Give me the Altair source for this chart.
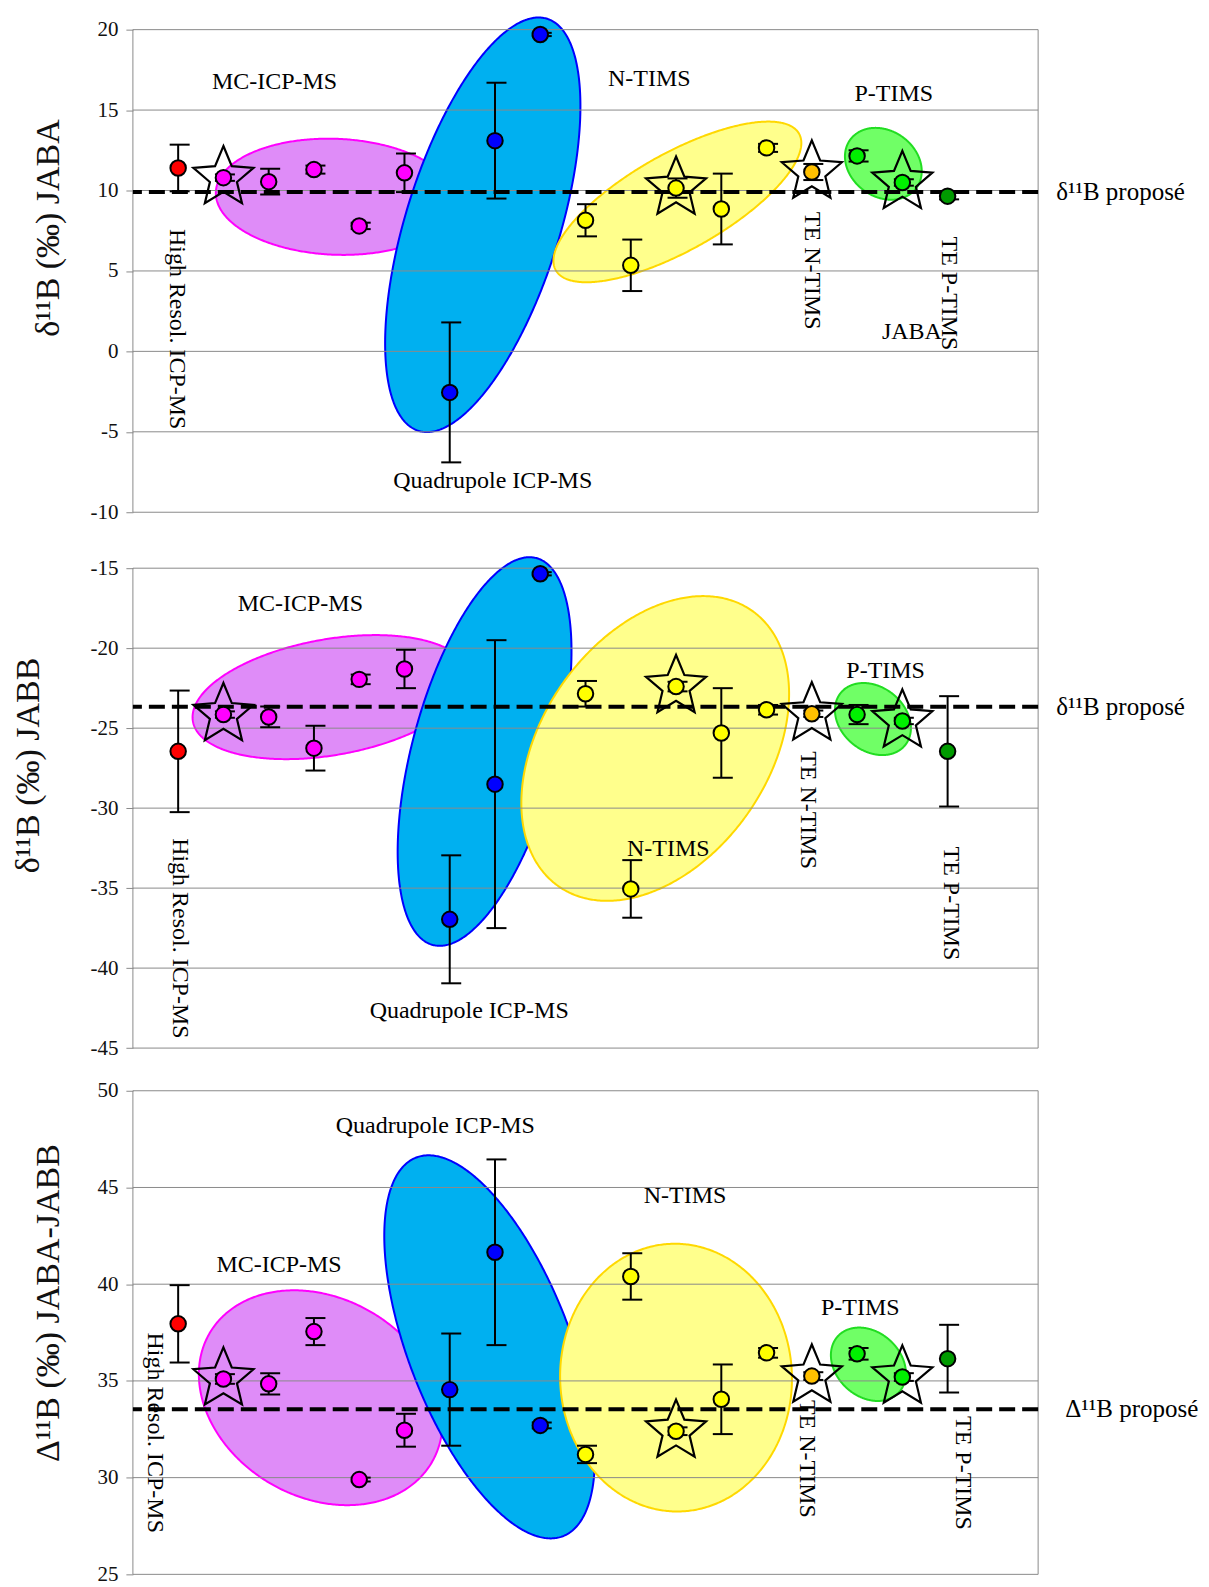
import math
import numpy as np
import pandas as pd
import altair as alt

FONT = "Liberation Serif"
GRID = "#8a8a8a"

# ---------------- data ----------------
idx = list(range(1, 19))
method = (["HR-ICP-MS"] + ["MC-ICP-MS"] * 5 + ["Q-ICP-MS"] * 3 + ["N-TIMS"] * 5
          + ["TE N-TIMS"] + ["P-TIMS"] * 2 + ["TE P-TIMS"])
star_idx = [2, 12, 15, 17]
method_names = ["HR-ICP-MS", "MC-ICP-MS", "Q-ICP-MS", "N-TIMS", "TE N-TIMS", "P-TIMS", "TE P-TIMS"]
method_colors = ["#FF0000", "#FF00FF", "#0000FF", "#FFFF00", "#FFC000", "#00F000", "#009A00"]

jaba_val = [11.4, 10.8, 10.55, 11.3, 7.8, 11.1, -2.55, 13.1, 19.7, 8.15, 5.35, 10.15, 8.85, 12.65, 11.15, 12.15, 10.5, 9.65]
jaba_err = [1.45, 0.2, 0.8, 0.25, 0.2, 1.2, 4.35, 3.6, 0.1, 1.0, 1.6, 0.6, 2.2, 0.25, 0.5, 0.35, 0.2, 0.2]
jabb_val = [-26.45, -24.15, -24.3, -26.25, -21.95, -21.3, -36.95, -28.5, -15.35, -22.85, -35.05, -22.4, -25.3, -23.85, -24.1, -24.15, -24.55, -26.45]
jabb_err = [3.8, 0.2, 0.65, 1.4, 0.3, 1.2, 4.0, 9.0, 0.1, 0.8, 1.8, 0.3, 2.8, 0.3, 0.2, 0.6, 0.2, 3.45]
diff_val = [37.95, 35.1, 34.85, 37.55, 29.9, 32.45, 34.55, 41.65, 32.7, 31.2, 40.4, 32.4, 34.05, 36.45, 35.25, 36.4, 35.2, 36.15]
diff_err = [2.0, 0.25, 0.55, 0.7, 0.1, 0.85, 2.9, 4.8, 0.15, 0.45, 1.2, 0.2, 1.8, 0.25, 0.2, 0.3, 0.2, 1.75]

ticks1 = [-10, -5, 0, 5, 10, 15, 20]
ticks2 = [-45, -40, -35, -30, -25, -20, -15]
ticks3 = [25, 30, 35, 40, 45, 50]

ref1, ref2, ref3 = 9.9, -23.66, 33.53

# annotation labels
lab1_h = ["MC-ICP-MS", "Quadrupole ICP-MS", "N-TIMS", "P-TIMS", "JABA"]
lab1_hx = [3.13, 7.95, 11.41, 16.81, 17.21]
lab1_hy = [16.75, -8.03, 16.96, 16.03, 1.22]
lab1_v = ["High Resol. ICP-MS", "TE N-TIMS", "TE P-TIMS"]
lab1_vx = [0.97, 15.01, 18.02]
lab1_vy = [1.38, 5.01, 3.6]

lab2_h = ["MC-ICP-MS", "Quadrupole ICP-MS", "N-TIMS", "P-TIMS"]
lab2_hx = [3.7, 7.43, 11.83, 16.63]
lab2_hy = [-17.25, -42.67, -32.58, -21.43]
lab2_v = ["High Resol. ICP-MS", "TE N-TIMS", "TE P-TIMS"]
lab2_vx = [1.04, 14.91, 18.07]
lab2_vy = [-38.14, -30.12, -35.96]

lab3_h = ["Quadrupole ICP-MS", "N-TIMS", "MC-ICP-MS", "P-TIMS"]
lab3_hx = [6.68, 12.2, 3.23, 16.07]
lab3_hy = [48.2, 44.55, 41.0, 38.77]
lab3_v = ["High Resol. ICP-MS", "TE N-TIMS", "TE P-TIMS"]
lab3_vx = [0.48, 14.9, 18.33]
lab3_vy = [32.32, 30.97, 30.24]

# group ellipses: centre (data units), semi-axes (px), angle (deg)
ell1_cx = [4.48, 7.73, 12.03, 16.58]
ell1_cy = [9.61, 7.87, 9.29, 11.66]
ell1_a = [120, 216, 139.6, 41]
ell1_b = [58, 77, 48.6, 33]
ell1_ang = [-2.3, 72.65, 29.3, -36]

ell2_cx = [4.37, 7.77, 11.54, 16.35]
ell2_cy = [-23.06, -26.46, -26.27, -24.43]
ell2_a = [140, 200.4, 168.5, 41.5]
ell2_b = [58, 72.3, 113.2, 32]
ell2_ang = [10, 75, 54.95, -39]

ell3_cx = [4.15, 7.88, 12.0, 16.25]
ell3_cy = [34.13, 36.76, 35.17, 35.86]
ell3_a = [128.6, 203.2, 134, 41.5]
ell3_b = [99.5, 81, 116, 32.2]
ell3_ang = [-30, 111.2, 92, -42.5]

ell_fill = ["#DF8CF8", "#00B0F0", "#FFFF8C", "#70FF66"]
ell_stroke = ["#FF00FF", "#0000FF", "#FFD800", "#22DD22"]

# ---------------- layout ----------------
W = 906
XDOM = [0, 20]
KX = W / (XDOM[1] - XDOM[0])


def star_path(inner=0.45):
    pts = []
    for k in range(10):
        ang = math.radians(-90 + 36 * k)
        r = 1.0 if k % 2 == 0 else inner
        pts.append(f"{r * math.cos(ang):.4f},{r * math.sin(ang):.4f}")
    return "M" + "L".join(pts) + "Z"


STAR = star_path()


def ellipse_frame(cx, cy, a, b, ang, ky, n=260):
    al = math.radians(ang)
    c, s = math.cos(al), math.sin(al)
    half_w = math.sqrt((a * c) ** 2 + (b * s) ** 2)
    A2 = s * s / a ** 2 + c * c / b ** 2
    rows = []
    for t in np.linspace(0, math.pi, n):
        px = -half_w * math.cos(t)
        B2 = 2 * px * c * s * (1 / a ** 2 - 1 / b ** 2)
        C2 = px * px * (c * c / a ** 2 + s * s / b ** 2) - 1
        disc = max(B2 * B2 - 4 * A2 * C2, 0.0)
        r1 = (-B2 - math.sqrt(disc)) / (2 * A2)
        r2 = (-B2 + math.sqrt(disc)) / (2 * A2)
        rows.append({"ex": cx + px / KX, "elo": cy + r1 / ky, "ehi": cy + r2 / ky})
    return pd.DataFrame(rows)


def panel(vals, errs, ticks, dom, H, title, tx, ty, ref_val, ref_label, ref_x,
          ell, lab_h, lab_v):
    ky = H / (dom[1] - dom[0])
    xs = alt.Scale(domain=XDOM, nice=False, zero=False)
    ys = alt.Scale(domain=dom, nice=False, zero=False)
    yax = alt.Axis(values=ticks, grid=False, domain=False, ticks=True,
                   tickSize=7, tickColor=GRID, tickWidth=1,
                   labelFont=FONT, labelFontSize=21, labelColor="#111",
                   labelPadding=8, labelExpr="'' + datum.value",
                   title=title, titleFont=FONT, titleFontSize=34,
                   titleFontWeight="normal", titleColor="#111",
                   titleAngle=270, titleX=tx, titleY=ty,
                   titleAlign="center", titleBaseline="middle")

    def Y(field):
        return alt.Y(field, scale=ys, axis=yax)

    def XX(field):
        return alt.X(field, scale=xs, axis=None)

    df = pd.DataFrame({"i": idx, "v": vals, "e": errs, "g": method})
    df["lo"] = df["v"] - df["e"]
    df["hi"] = df["v"] + df["e"]
    caps = pd.DataFrame({"i": idx * 2, "c": list(df["lo"]) + list(df["hi"])})
    stars = df[df["i"].isin(star_idx)]

    layers = []
    # ellipses
    cxs, cys, aa, bb, angs = ell
    for k in range(len(cxs)):
        edf = ellipse_frame(cxs[k], cys[k], aa[k], bb[k], angs[k], ky)
        layers.append(
            alt.Chart(edf).mark_area(fill=ell_fill[k], stroke=ell_stroke[k],
                                     strokeWidth=2, fillOpacity=1, interpolate="linear")
            .encode(x=XX("ex:Q"), y=alt.Y("elo:Q", scale=ys, axis=yax, stack=None),
                    y2="ehi:Q")
        )
    # gridlines
    layers.append(
        alt.Chart(pd.DataFrame({"t": ticks})).mark_rule(color=GRID, strokeWidth=1)
        .encode(y=Y("t:Q"))
    )
    # left / right borders
    bdf = pd.DataFrame({"bx": XDOM, "b0": [min(ticks)] * 2, "b1": [max(ticks)] * 2})
    layers.append(
        alt.Chart(bdf).mark_rule(color=GRID, strokeWidth=1)
        .encode(x=XX("bx:Q"), y=Y("b0:Q"), y2="b1:Q")
    )
    # proposed value (dashed)
    layers.append(
        alt.Chart(pd.DataFrame({"r": [ref_val]}))
        .mark_rule(color="black", strokeWidth=4, strokeDash=[16, 7])
        .encode(y=Y("r:Q"))
    )
    # stars
    layers.append(
        alt.Chart(stars).mark_point(shape=STAR, size=4000, filled=False, color="black",
                                    strokeWidth=2.2, opacity=1)
        .encode(x=XX("i:Q"), y=Y("v:Q"))
    )
    # error bars
    layers.append(
        alt.Chart(df).mark_rule(color="black", strokeWidth=2)
        .encode(x=XX("i:Q"), y=Y("lo:Q"), y2="hi:Q")
    )
    layers.append(
        alt.Chart(caps).mark_tick(orient="horizontal", size=20, thickness=2,
                                  color="black", opacity=1, xOffset=1.5)
        .encode(x=XX("i:Q"), y=Y("c:Q"))
    )
    # points
    layers.append(
        alt.Chart(df).mark_point(shape="circle", filled=True, size=240, stroke="black",
                                 strokeWidth=2, opacity=1, fillOpacity=1)
        .encode(x=XX("i:Q"), y=Y("v:Q"),
                fill=alt.Fill("g:N", scale=alt.Scale(domain=method_names,
                                                     range=method_colors), legend=None))
    )
    # labels
    hdf = pd.DataFrame({"t": lab_h[0], "lx": lab_h[1], "ly": lab_h[2]})
    layers.append(
        alt.Chart(hdf).mark_text(font=FONT, fontSize=24, color="black",
                                 align="center", baseline="middle")
        .encode(x=XX("lx:Q"), y=Y("ly:Q"), text="t:N")
    )
    vdf = pd.DataFrame({"t": lab_v[0], "lx": lab_v[1], "ly": lab_v[2]})
    layers.append(
        alt.Chart(vdf).mark_text(font=FONT, fontSize=24, color="black", angle=90,
                                 align="center", baseline="middle")
        .encode(x=XX("lx:Q"), y=Y("ly:Q"), text="t:N")
    )
    pdf = pd.DataFrame({"t": [ref_label], "lx": [ref_x], "ly": [ref_val]})
    layers.append(
        alt.Chart(pdf).mark_text(font=FONT, fontSize=25, color="black",
                                 align="left", baseline="middle")
        .encode(x=XX("lx:Q"), y=Y("ly:Q"), text="t:N")
    )
    return alt.layer(*layers).properties(width=W, height=H)


H1, H2, H3 = 529, 513, 484
p1 = panel(jaba_val, jaba_err, ticks1, [20 - H1 / 16.1, 20], H1,
           "δ¹¹B (‰) JABA", -84, 198, ref1, "δ¹¹B proposé", 20.4,
           (ell1_cx, ell1_cy, ell1_a, ell1_b, ell1_ang),
           (lab1_h, lab1_hx, lab1_hy), (lab1_v, lab1_vx, lab1_vy))
p2 = panel(jabb_val, jabb_err, ticks2, [-15 - H2 / 16.01, -15], H2,
           "δ¹¹B (‰) JABB", -104, 197, ref2, "δ¹¹B proposé", 20.4,
           (ell2_cx, ell2_cy, ell2_a, ell2_b, ell2_ang),
           (lab2_h, lab2_hx, lab2_hy), (lab2_v, lab2_vx, lab2_vy))
p3 = panel(diff_val, diff_err, ticks3, [25, 50], H3,
           "Δ¹¹B (‰) JABA-JABB", -84, 212, ref3, "Δ¹¹B proposé", 20.6,
           (ell3_cx, ell3_cy, ell3_a, ell3_b, ell3_ang),
           (lab3_h, lab3_hx, lab3_hy), (lab3_v, lab3_vx, lab3_vy))

chart = (alt.vconcat(p1, p2, p3, spacing=10, bounds="flush")
         .properties(padding={"left": 4, "top": 4, "right": 2, "bottom": 0})
         .configure_view(stroke=None))

chart.save("out.html", embed_options={"renderer": "svg", "actions": False})
